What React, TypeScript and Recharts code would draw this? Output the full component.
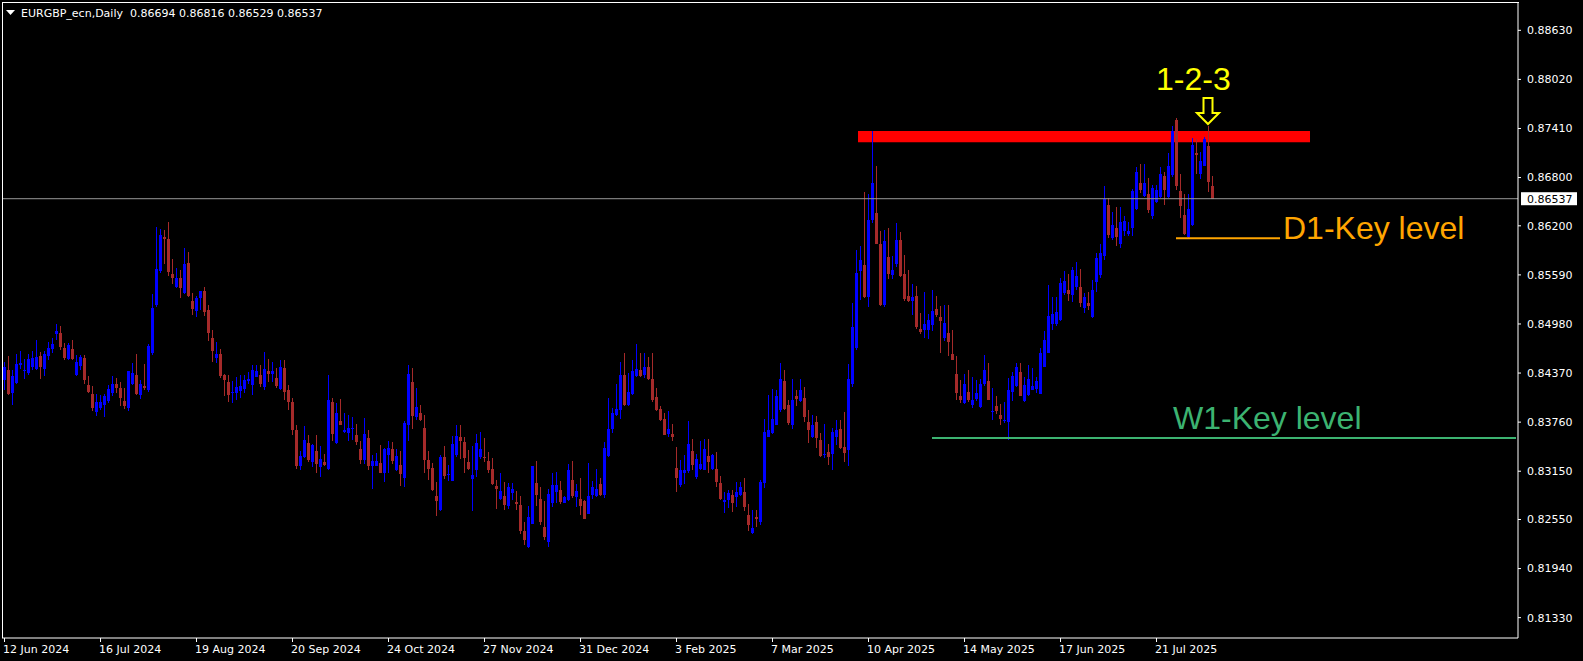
import React from 'react';
import {
  ComposedChart,
  Bar,
  XAxis,
  YAxis,
  ReferenceLine,
  ReferenceArea,
  ReferenceDot,
} from 'recharts';

// ---------------------------------------------------------------------------
// Data: EURGBP daily candles, [open, high, low, close]
// ---------------------------------------------------------------------------

const SYMBOL = 'EURGBP_ecn';
const TIMEFRAME = 'Daily';

// 12 Jun 2024 .. 15 Jul 2024
const jun12 = [
  [0.8428, 0.8451, 0.8416, 0.8445], [0.8441, 0.8458, 0.8410, 0.8411], [0.8412, 0.8441, 0.8397, 0.8433],
  [0.8425, 0.8461, 0.8424, 0.8448], [0.8447, 0.8465, 0.8442, 0.8450], [0.8440, 0.8454, 0.8429, 0.8441],
  [0.8437, 0.8461, 0.8434, 0.8454], [0.8445, 0.8465, 0.8441, 0.8456], [0.8442, 0.8478, 0.8441, 0.8457],
  [0.8458, 0.8463, 0.8430, 0.8444], [0.8442, 0.8465, 0.8433, 0.8461], [0.8458, 0.8476, 0.8453, 0.8468],
  [0.8467, 0.8481, 0.8462, 0.8473], [0.8486, 0.8498, 0.8478, 0.8489], [0.8487, 0.8496, 0.8466, 0.8470],
  [0.8468, 0.8474, 0.8453, 0.8456], [0.8454, 0.8474, 0.8453, 0.8472], [0.8467, 0.8478, 0.8453, 0.8455],
  [0.8435, 0.8460, 0.8433, 0.8451], [0.8446, 0.8459, 0.8441, 0.8457], [0.8456, 0.8459, 0.8424, 0.8428],
  [0.8422, 0.8433, 0.8412, 0.8414], [0.8411, 0.8421, 0.8390, 0.8394], [0.8388, 0.8411, 0.8384, 0.8401],
];

// 16 Jul 2024 .. 16 Aug 2024
const jul16 = [
  [0.8394, 0.8410, 0.8391, 0.8401], [0.8397, 0.8411, 0.8382, 0.8409], [0.8402, 0.8422, 0.8400, 0.8417],
  [0.8412, 0.8433, 0.8408, 0.8424], [0.8424, 0.8431, 0.8412, 0.8419], [0.8419, 0.8426, 0.8396, 0.8406],
  [0.8402, 0.8418, 0.8392, 0.8396], [0.8393, 0.8440, 0.8390, 0.8439], [0.8424, 0.8450, 0.8422, 0.8437],
  [0.8434, 0.8461, 0.8410, 0.8411], [0.8410, 0.8428, 0.8405, 0.8424], [0.8421, 0.8448, 0.8416, 0.8419],
  [0.8416, 0.8473, 0.8414, 0.8471], [0.8462, 0.8535, 0.8460, 0.8518], [0.8522, 0.8618, 0.8519, 0.8566],
  [0.8564, 0.8616, 0.8561, 0.8609], [0.8606, 0.8615, 0.8573, 0.8604], [0.8604, 0.8625, 0.8558, 0.8562],
  [0.8560, 0.8579, 0.8548, 0.8555], [0.8544, 0.8568, 0.8543, 0.8555], [0.8555, 0.8565, 0.8530, 0.8543],
  [0.8537, 0.8592, 0.8535, 0.8573], [0.8574, 0.8588, 0.8531, 0.8533], [0.8527, 0.8536, 0.8509, 0.8517],
];

// 19 Aug 2024 .. 19 Sep 2024
const aug19 = [
  [0.8514, 0.8533, 0.8507, 0.8530], [0.8530, 0.8539, 0.8515, 0.8539], [0.8539, 0.8544, 0.8508, 0.8513],
  [0.8515, 0.8521, 0.8477, 0.8487], [0.8481, 0.8491, 0.8451, 0.8465], [0.8456, 0.8475, 0.8449, 0.8461],
  [0.8461, 0.8467, 0.8431, 0.8433], [0.8434, 0.8436, 0.8409, 0.8428], [0.8426, 0.8435, 0.8401, 0.8410],
  [0.8412, 0.8427, 0.8400, 0.8414], [0.8412, 0.8432, 0.8403, 0.8420], [0.8415, 0.8434, 0.8406, 0.8421],
  [0.8417, 0.8434, 0.8412, 0.8428], [0.8427, 0.8438, 0.8424, 0.8430], [0.8422, 0.8447, 0.8410, 0.8441],
  [0.8432, 0.8447, 0.8432, 0.8439], [0.8434, 0.8447, 0.8420, 0.8423], [0.8420, 0.8463, 0.8416, 0.8442],
  [0.8440, 0.8455, 0.8426, 0.8436], [0.8436, 0.8451, 0.8426, 0.8439], [0.8431, 0.8443, 0.8419, 0.8421],
  [0.8417, 0.8453, 0.8416, 0.8444], [0.8443, 0.8453, 0.8403, 0.8413], [0.8416, 0.8422, 0.8391, 0.8401],
];

// 20 Sep 2024 .. 23 Oct 2024
const sep20 = [
  [0.8401, 0.8406, 0.8360, 0.8366], [0.8366, 0.8372, 0.8318, 0.8322], [0.8321, 0.8340, 0.8316, 0.8334],
  [0.8333, 0.8371, 0.8331, 0.8354], [0.8350, 0.8360, 0.8326, 0.8329], [0.8327, 0.8349, 0.8320, 0.8347],
  [0.8340, 0.8360, 0.8313, 0.8324], [0.8320, 0.8346, 0.8308, 0.8330], [0.8327, 0.8337, 0.8321, 0.8323],
  [0.8318, 0.8435, 0.8317, 0.8404], [0.8401, 0.8406, 0.8352, 0.8361], [0.8350, 0.8400, 0.8349, 0.8387],
  [0.8378, 0.8405, 0.8373, 0.8373], [0.8364, 0.8387, 0.8363, 0.8366], [0.8363, 0.8385, 0.8353, 0.8369],
  [0.8368, 0.8383, 0.8354, 0.8369], [0.8360, 0.8374, 0.8348, 0.8351], [0.8343, 0.8352, 0.8324, 0.8329],
  [0.8329, 0.8381, 0.8324, 0.8361], [0.8356, 0.8366, 0.8317, 0.8322], [0.8322, 0.8335, 0.8293, 0.8328],
  [0.8322, 0.8338, 0.8321, 0.8328], [0.8325, 0.8347, 0.8313, 0.8313], [0.8313, 0.8344, 0.8302, 0.8343],
];

// 24 Oct 2024 .. 26 Nov 2024
const oct24 = [
  [0.8335, 0.8352, 0.8313, 0.8344], [0.8342, 0.8351, 0.8324, 0.8328], [0.8317, 0.8342, 0.8315, 0.8334],
  [0.8323, 0.8340, 0.8297, 0.8311], [0.8307, 0.8377, 0.8296, 0.8375], [0.8373, 0.8447, 0.8352, 0.8436],
  [0.8426, 0.8443, 0.8368, 0.8384], [0.8382, 0.8418, 0.8379, 0.8395], [0.8387, 0.8397, 0.8377, 0.8379],
  [0.8369, 0.8385, 0.8313, 0.8329], [0.8329, 0.8340, 0.8304, 0.8318], [0.8319, 0.8325, 0.8291, 0.8292],
  [0.8284, 0.8302, 0.8259, 0.8278], [0.8267, 0.8335, 0.8265, 0.8333], [0.8333, 0.8346, 0.8305, 0.8309],
  [0.8310, 0.8323, 0.8303, 0.8312], [0.8303, 0.8359, 0.8303, 0.8349], [0.8335, 0.8373, 0.8333, 0.8359],
  [0.8357, 0.8373, 0.8330, 0.8352], [0.8351, 0.8357, 0.8313, 0.8332], [0.8326, 0.8341, 0.8317, 0.8318],
  [0.8305, 0.8346, 0.8266, 0.8310], [0.8317, 0.8361, 0.8308, 0.8350], [0.8333, 0.8364, 0.8330, 0.8343],
];

// 27 Nov 2024 .. 30 Dec 2024
const nov27 = [
  [0.8333, 0.8356, 0.8327, 0.8332], [0.8328, 0.8339, 0.8313, 0.8317], [0.8318, 0.8332, 0.8298, 0.8299],
  [0.8297, 0.8304, 0.8268, 0.8293], [0.8280, 0.8313, 0.8279, 0.8291], [0.8284, 0.8302, 0.8267, 0.8273],
  [0.8272, 0.8300, 0.8268, 0.8296], [0.8288, 0.8300, 0.8279, 0.8293], [0.8277, 0.8290, 0.8267, 0.8274],
  [0.8273, 0.8284, 0.8237, 0.8241], [0.8241, 0.8252, 0.8223, 0.8230], [0.8221, 0.8272, 0.8219, 0.8258],
  [0.8250, 0.8322, 0.8249, 0.8321], [0.8300, 0.8328, 0.8272, 0.8285], [0.8281, 0.8296, 0.8248, 0.8252],
  [0.8246, 0.8278, 0.8229, 0.8233], [0.8227, 0.8293, 0.8221, 0.8287], [0.8276, 0.8313, 0.8270, 0.8298],
  [0.8289, 0.8314, 0.8276, 0.8298], [0.8292, 0.8303, 0.8274, 0.8277], [0.8276, 0.8284, 0.8275, 0.8283],
  [0.8279, 0.8324, 0.8278, 0.8317], [0.8304, 0.8328, 0.8282, 0.8284], [0.8283, 0.8299, 0.8271, 0.8290],
];

// 31 Dec 2024 .. 31 Jan 2025
const dec31 = [
  [0.8281, 0.8306, 0.8261, 0.8272], [0.8278, 0.8279, 0.8255, 0.8256], [0.8262, 0.8325, 0.8262, 0.8284],
  [0.8286, 0.8303, 0.8281, 0.8295], [0.8284, 0.8318, 0.8283, 0.8293], [0.8299, 0.8306, 0.8284, 0.8286],
  [0.8286, 0.8351, 0.8282, 0.8344], [0.8334, 0.8406, 0.8333, 0.8367], [0.8367, 0.8393, 0.8362, 0.8387],
  [0.8385, 0.8423, 0.8384, 0.8392], [0.8391, 0.8451, 0.8380, 0.8434], [0.8434, 0.8462, 0.8396, 0.8397],
  [0.8397, 0.8437, 0.8396, 0.8414], [0.8411, 0.8453, 0.8410, 0.8439], [0.8433, 0.8473, 0.8432, 0.8442],
  [0.8441, 0.8462, 0.8432, 0.8433], [0.8434, 0.8462, 0.8431, 0.8444], [0.8444, 0.8457, 0.8428, 0.8429],
  [0.8429, 0.8462, 0.8401, 0.8403], [0.8407, 0.8419, 0.8390, 0.8391], [0.8392, 0.8396, 0.8378, 0.8379],
  [0.8380, 0.8387, 0.8360, 0.8360], [0.8361, 0.8390, 0.8357, 0.8367], [0.8361, 0.8374, 0.8352, 0.8358],
];

// 3 Feb 2025 .. 6 Mar 2025
const feb03 = [
  [0.8319, 0.8345, 0.8289, 0.8306], [0.8298, 0.8329, 0.8296, 0.8316], [0.8313, 0.8335, 0.8299, 0.8317],
  [0.8315, 0.8377, 0.8313, 0.8349], [0.8340, 0.8355, 0.8317, 0.8323], [0.8308, 0.8336, 0.8305, 0.8330],
  [0.8318, 0.8352, 0.8316, 0.8324], [0.8317, 0.8355, 0.8316, 0.8342], [0.8334, 0.8355, 0.8313, 0.8327],
  [0.8318, 0.8337, 0.8316, 0.8335], [0.8318, 0.8339, 0.8296, 0.8302], [0.8300, 0.8309, 0.8279, 0.8281],
  [0.8277, 0.8289, 0.8263, 0.8279], [0.8279, 0.8292, 0.8269, 0.8288], [0.8286, 0.8292, 0.8264, 0.8276],
  [0.8283, 0.8302, 0.8271, 0.8289], [0.8285, 0.8302, 0.8284, 0.8296], [0.8289, 0.8306, 0.8265, 0.8270],
  [0.8261, 0.8274, 0.8241, 0.8248], [0.8238, 0.8267, 0.8237, 0.8245], [0.8258, 0.8267, 0.8246, 0.8255],
  [0.8252, 0.8304, 0.8248, 0.8302], [0.8300, 0.8380, 0.8294, 0.8364], [0.8358, 0.8410, 0.8357, 0.8366],
];

// 7 Mar 2025 .. 9 Apr 2025
const mar07 = [
  [0.8362, 0.8417, 0.8361, 0.8380], [0.8373, 0.8416, 0.8372, 0.8409], [0.8391, 0.8449, 0.8389, 0.8430],
  [0.8427, 0.8441, 0.8391, 0.8392], [0.8397, 0.8404, 0.8372, 0.8375], [0.8372, 0.8429, 0.8367, 0.8404],
  [0.8408, 0.8416, 0.8396, 0.8405], [0.8402, 0.8429, 0.8401, 0.8416], [0.8406, 0.8420, 0.8376, 0.8382],
  [0.8376, 0.8391, 0.8350, 0.8366], [0.8357, 0.8385, 0.8356, 0.8372], [0.8376, 0.8384, 0.8344, 0.8356],
  [0.8354, 0.8362, 0.8333, 0.8334], [0.8335, 0.8374, 0.8331, 0.8337], [0.8339, 0.8349, 0.8323, 0.8333],
  [0.8336, 0.8369, 0.8317, 0.8364], [0.8357, 0.8379, 0.8348, 0.8366], [0.8367, 0.8379, 0.8342, 0.8344],
  [0.8345, 0.8388, 0.8326, 0.8338], [0.8341, 0.8448, 0.8321, 0.8429], [0.8424, 0.8524, 0.8420, 0.8494],
  [0.8468, 0.8590, 0.8466, 0.8561], [0.8564, 0.8595, 0.8528, 0.8578], [0.8571, 0.8662, 0.8530, 0.8532],
];

// 10 Apr 2025 .. 13 May 2025
const apr10 = [
  [0.8531, 0.8660, 0.8519, 0.8627], [0.8627, 0.8738, 0.8624, 0.8673], [0.8636, 0.8694, 0.8598, 0.8598],
  [0.8598, 0.8613, 0.8520, 0.8521], [0.8521, 0.8615, 0.8519, 0.8601], [0.8581, 0.8617, 0.8554, 0.8560],
  [0.8559, 0.8583, 0.8554, 0.8565], [0.8573, 0.8623, 0.8569, 0.8602], [0.8602, 0.8612, 0.8557, 0.8558],
  [0.8560, 0.8584, 0.8527, 0.8529], [0.8533, 0.8565, 0.8525, 0.8526], [0.8526, 0.8548, 0.8509, 0.8532],
  [0.8533, 0.8545, 0.8492, 0.8494], [0.8492, 0.8512, 0.8486, 0.8488], [0.8490, 0.8538, 0.8480, 0.8498],
  [0.8490, 0.8511, 0.8479, 0.8503], [0.8497, 0.8540, 0.8489, 0.8514], [0.8517, 0.8533, 0.8507, 0.8509],
  [0.8507, 0.8520, 0.8462, 0.8502], [0.8481, 0.8522, 0.8477, 0.8499], [0.8487, 0.8522, 0.8458, 0.8475],
  [0.8461, 0.8491, 0.8453, 0.8453], [0.8436, 0.8458, 0.8404, 0.8412], [0.8409, 0.8428, 0.8400, 0.8404],
];

// 14 May 2025 .. 16 Jun 2025
const may14 = [
  [0.8400, 0.8436, 0.8399, 0.8424], [0.8414, 0.8441, 0.8401, 0.8404], [0.8397, 0.8432, 0.8393, 0.8404],
  [0.8405, 0.8428, 0.8402, 0.8412], [0.8395, 0.8429, 0.8394, 0.8424], [0.8424, 0.8460, 0.8421, 0.8441],
  [0.8427, 0.8450, 0.8403, 0.8404], [0.8389, 0.8419, 0.8379, 0.8390], [0.8396, 0.8409, 0.8386, 0.8390],
  [0.8385, 0.8399, 0.8372, 0.8380], [0.8377, 0.8401, 0.8375, 0.8379], [0.8376, 0.8431, 0.8354, 0.8416],
  [0.8413, 0.8438, 0.8402, 0.8433], [0.8421, 0.8450, 0.8420, 0.8444], [0.8438, 0.8450, 0.8408, 0.8409],
  [0.8402, 0.8432, 0.8401, 0.8422], [0.8410, 0.8447, 0.8409, 0.8429], [0.8416, 0.8443, 0.8416, 0.8421],
  [0.8417, 0.8432, 0.8412, 0.8427], [0.8411, 0.8468, 0.8411, 0.8462], [0.8444, 0.8489, 0.8444, 0.8478],
  [0.8462, 0.8547, 0.8462, 0.8508], [0.8498, 0.8532, 0.8491, 0.8511], [0.8498, 0.8532, 0.8496, 0.8513],
];

// 17 Jun 2025 .. 18 Jul 2025
const jun17 = [
  [0.8503, 0.8555, 0.8502, 0.8549], [0.8537, 0.8564, 0.8534, 0.8552], [0.8540, 0.8560, 0.8527, 0.8535],
  [0.8534, 0.8569, 0.8525, 0.8565], [0.8544, 0.8575, 0.8540, 0.8558], [0.8544, 0.8566, 0.8519, 0.8524],
  [0.8518, 0.8537, 0.8512, 0.8532], [0.8524, 0.8538, 0.8516, 0.8520], [0.8507, 0.8553, 0.8506, 0.8540],
  [0.8550, 0.8586, 0.8538, 0.8580], [0.8559, 0.8598, 0.8555, 0.8586], [0.8583, 0.8670, 0.8577, 0.8653],
  [0.8646, 0.8655, 0.8605, 0.8608], [0.8605, 0.8637, 0.8603, 0.8621], [0.8617, 0.8643, 0.8595, 0.8606],
  [0.8597, 0.8643, 0.8593, 0.8625], [0.8614, 0.8632, 0.8607, 0.8626], [0.8610, 0.8625, 0.8607, 0.8614],
  [0.8617, 0.8666, 0.8607, 0.8663], [0.8641, 0.8693, 0.8640, 0.8687], [0.8673, 0.8697, 0.8661, 0.8665],
  [0.8657, 0.8697, 0.8656, 0.8673], [0.8660, 0.8680, 0.8636, 0.8640], [0.8632, 0.8671, 0.8628, 0.8667],
];

// 21 Jul 2025 .. 8 Aug 2025
const jul21 = [
  [0.8649, 0.8671, 0.8648, 0.8665], [0.8656, 0.8693, 0.8654, 0.8685], [0.8682, 0.8687, 0.8646, 0.8665],
  [0.8656, 0.8710, 0.8655, 0.8694], [0.8683, 0.8744, 0.8681, 0.8738], [0.8752, 0.8754, 0.8665, 0.8670],
  [0.8663, 0.8685, 0.8630, 0.8645], [0.8634, 0.8660, 0.8609, 0.8610], [0.8606, 0.8660, 0.8605, 0.8641],
  [0.8621, 0.8729, 0.8620, 0.8721], [0.8710, 0.8728, 0.8685, 0.8708], [0.8685, 0.8712, 0.8678, 0.8701],
  [0.8694, 0.8731, 0.8694, 0.8728], [0.8719, 0.8744, 0.8662, 0.8674], [0.86694, 0.86816, 0.86529, 0.86537],
];

// x-axis labels and the bar they sit on
const dateLabels = [
  '12 Jun 2024', '16 Jul 2024', '19 Aug 2024', '20 Sep 2024', '24 Oct 2024', '27 Nov 2024', '31 Dec 2024',
  '3 Feb 2025', '7 Mar 2025', '10 Apr 2025', '14 May 2025', '17 Jun 2025', '21 Jul 2025',
];
const labelBars = [0, 24, 48, 72, 96, 120, 144, 168, 192, 216, 240, 264, 288];

// price scale labels
const priceTicks = [
  0.8863, 0.8802, 0.8741, 0.868, 0.862, 0.8559, 0.8498, 0.8437, 0.8376, 0.8315, 0.8255, 0.8194, 0.8133,
];
const Y_MIN = 0.81077;
const Y_MAX = 0.88982;

// drawn levels
const resistanceZone = { fromBar: 214, toBar: 326, low: 0.8724, high: 0.8738 };
const d1Level = { fromBar: 293, toBar: 319, price: 0.86045 };
const w1Level = { fromBar: 232, toBar: 378, price: 0.83563 };
const signalBar = 301;

// ---------------------------------------------------------------------------

const candles = [
  ...jun12, ...jul16, ...aug19, ...sep20, ...oct24, ...nov27, ...dec31,
  ...feb03, ...mar07, ...apr10, ...may14, ...jun17, ...jul21,
];
const LAST = candles[candles.length - 1];
const SLOTS = 379; // 4px per bar across the plot, includes MT4 chart shift

const rows = Array.from({ length: SLOTS }, (_, i) => {
  const k = candles[i];
  return k
    ? { idx: i, o: k[0], h: k[1], l: k[2], c: k[3], range: [k[2], k[1]] }
    : { idx: i, range: null };
});

const labelByBar: Record<number, string> = {};
labelBars.forEach((b, j) => {
  labelByBar[b] = dateLabels[j];
});

const BULL = '#0000ff';
const BEAR = '#a52a2a';
const AXIS_FONT = 'DejaVu Sans, Verdana, sans-serif';
const BIG_FONT = 'Liberation Sans, Arial, sans-serif';

function Candle(props: any) {
  const { x, y, width, height, payload } = props;
  if (!payload || payload.o == null || y == null) return null;
  const { o, h, l, c } = payload;
  const top = Math.min(y, y + height);
  const bot = Math.max(y, y + height);
  const k = h > l ? (bot - top) / (h - l) : 0;
  const bTop = top + (h - Math.max(o, c)) * k;
  const bBot = top + (h - Math.min(o, c)) * k;
  const col = c >= o ? BULL : BEAR;
  const cx = Math.round(x + width / 2);
  return (
    <g shapeRendering="crispEdges">
      <rect x={cx} y={top} width={1} height={Math.max(1, bot - top)} fill={col} />
      <rect x={cx - 1} y={bTop} width={3} height={Math.max(1, bBot - bTop)} fill={col} />
    </g>
  );
}

function DateTick(props: any) {
  const { x, y, payload } = props;
  const label = labelByBar[payload?.value];
  if (!label) return null;
  return (
    <g>
      <line x1={x + 0.5} x2={x + 0.5} y1={y} y2={y + 4} stroke="#ffffff" />
      <text x={x - 1} y={y + 14.5} fill="#ffffff" fontSize={11} fontFamily={AXIS_FONT}>
        {label}
      </text>
    </g>
  );
}

function PriceTag(props: any) {
  const vb = props.viewBox;
  if (!vb) return null;
  const right = vb.x + vb.width;
  return (
    <g>
      <rect x={right + 3} y={vb.y - 6.5} width={56} height={13} fill="#ffffff" />
      <text x={right + 9} y={vb.y + 4} fontSize={11} fontFamily={AXIS_FONT} fill="#000000">
        {LAST[3].toFixed(5)}
      </text>
    </g>
  );
}

function D1Label(props: any) {
  const vb = props.viewBox;
  if (!vb) return null;
  return (
    <text x={vb.x + vb.width + 3} y={vb.y + 1} fontSize={32} fontFamily={BIG_FONT} fill="#ffa500">
      D1-Key level
    </text>
  );
}

function W1Label(props: any) {
  const vb = props.viewBox;
  if (!vb) return null;
  return (
    <text x={vb.x + 241} y={vb.y - 9} fontSize={32} fontFamily={BIG_FONT} fill="#3cb371">
      W1-Key level
    </text>
  );
}

function SignalArrow(props: any) {
  const { cx, cy } = props;
  if (cx == null || cy == null) return null;
  const tip = cy - 2;
  const head = tip - 11;
  const shaft = tip - 26;
  const d = `M${cx - 4.5},${shaft} L${cx + 4.5},${shaft} L${cx + 4.5},${head} L${cx + 11},${head} L${cx},${tip} L${cx - 11},${head} L${cx - 4.5},${head} Z`;
  return (
    <g>
      <path d={d} fill="none" stroke="#ffff00" strokeWidth={2} />
      <text x={cx - 52} y={cy - 36} fontSize={32} fontFamily={BIG_FONT} fill="#ffff00">
        1-2-3
      </text>
    </g>
  );
}

export default function App() {
  const header = `${SYMBOL},${TIMEFRAME}  ${LAST.map((v) => v.toFixed(5)).join(' ')}`;
  return (
    <div
      style={{
        position: 'fixed',
        left: 0,
        top: 0,
        width: 1583,
        height: 661,
        background: '#000000',
        overflow: 'hidden',
        fontFamily: AXIS_FONT,
      }}
    >
      <ComposedChart
        width={1583}
        height={661}
        data={rows}
        margin={{ top: 2, right: 0, bottom: 0, left: 2 }}
        barCategoryGap={0}
        barGap={0}
      >
        <XAxis
          dataKey="idx"
          type="category"
          ticks={labelBars}
          interval={0}
          height={23}
          tick={DateTick}
          tickLine={false}
          tickSize={0}
          tickMargin={0}
          axisLine={{ stroke: '#ffffff' }}
        />
        <YAxis
          orientation="right"
          type="number"
          domain={[Y_MIN, Y_MAX]}
          allowDataOverflow
          ticks={priceTicks}
          interval={0}
          width={65}
          axisLine={{ stroke: '#ffffff' }}
          tickLine={{ stroke: '#ffffff' }}
          tickSize={3}
          tickMargin={6}
          tick={{ fill: '#ffffff', fontSize: 11, fontFamily: AXIS_FONT }}
          tickFormatter={(v: number) => v.toFixed(5)}
        />
        <ReferenceArea
          x1={resistanceZone.fromBar}
          x2={resistanceZone.toBar}
          y1={resistanceZone.low}
          y2={resistanceZone.high}
          fill="#ff0000"
          fillOpacity={1}
          stroke="none"
        />
        <ReferenceLine y={LAST[3]} stroke="#999999" strokeWidth={1} label={PriceTag} />
        <Bar dataKey="range" shape={Candle} isAnimationActive={false} />
        <ReferenceLine
          segment={[
            { x: d1Level.fromBar, y: d1Level.price },
            { x: d1Level.toBar, y: d1Level.price },
          ]}
          stroke="#ffa500"
          strokeWidth={2}
          label={D1Label}
        />
        <ReferenceLine
          segment={[
            { x: w1Level.fromBar, y: w1Level.price },
            { x: w1Level.toBar, y: w1Level.price },
          ]}
          stroke="#3cb371"
          strokeWidth={2}
          label={W1Label}
        />
        <ReferenceDot
          x={signalBar}
          y={candles[signalBar][1]}
          r={0}
          shape={SignalArrow}
        />
      </ComposedChart>
      <svg
        width={1583}
        height={661}
        style={{ position: 'absolute', left: 0, top: 0, pointerEvents: 'none' }}
      >
        <line x1={2.5} x2={2.5} y1={2} y2={638} stroke="#ffffff" />
        <line x1={2} x2={1519} y1={2.5} y2={2.5} stroke="#ffffff" />
        <polygon points="6,10 15,10 10.5,15" fill="#ffffff" />
        <text x={21} y={16.5} fontSize={11} fontFamily={AXIS_FONT} fill="#ffffff" style={{ whiteSpace: 'pre' }}>
          {header}
        </text>
      </svg>
    </div>
  );
}
